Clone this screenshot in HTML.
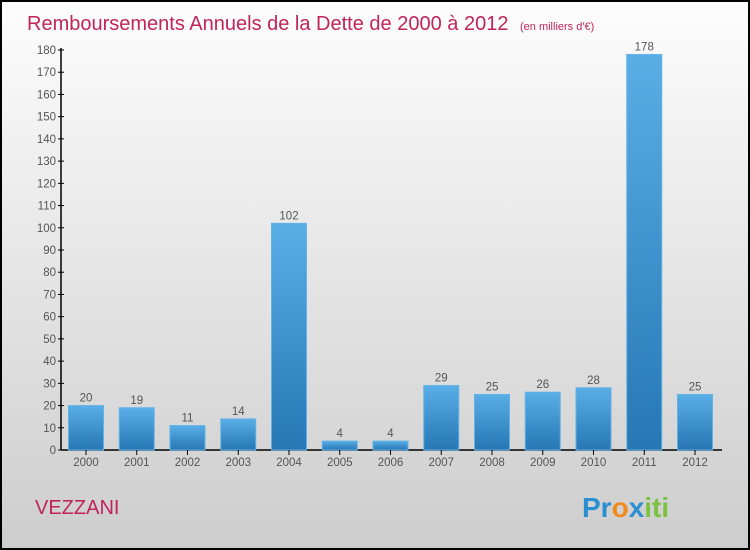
<!DOCTYPE html>
<html><head><meta charset="utf-8"><style>
body{margin:0;width:750px;height:550px;overflow:hidden}
svg{display:block;font-family:"Liberation Sans",sans-serif}
</style></head><body>
<svg id="c" width="750" height="550">
<defs>
<linearGradient id="bg" x1="0" y1="0" x2="0" y2="1"><stop offset="0" stop-color="#fdfdfd"/><stop offset="1" stop-color="#cdcdcd"/></linearGradient>
<linearGradient id="bar" x1="0" y1="0" x2="0" y2="1"><stop offset="0" stop-color="#5aaee6"/><stop offset="1" stop-color="#2677b4"/></linearGradient>
</defs>
<rect x="1" y="1" width="748" height="548" fill="url(#bg)" stroke="#000" stroke-width="2"/>
<text x="27" y="30" font-size="20" fill="#c0245a">Remboursements Annuels de la Dette de 2000 à 2012 <tspan font-size="11" dx="6">(en milliers d'€)</tspan></text>
<text x="35" y="514" font-size="20" fill="#c0245a">VEZZANI</text>
<text x="582" y="517" font-size="28" font-weight="bold"><tspan fill="#2a8fd0">Pr</tspan><tspan fill="#f08a1c">o</tspan><tspan fill="#2a8fd0">x</tspan><tspan fill="#7cc242">iti</tspan></text>
<g id="g"></g>
</svg>
<script>
const years=["2000","2001","2002","2003","2004","2005","2006","2007","2008","2009","2010","2011","2012"];
const values=[20,19,11,14,102,4,4,29,25,26,28,178,25];
const ticks=[0,10,20,30,40,50,60,70,80,90,100,110,120,130,140,150,160,170,180];
const NS="http://www.w3.org/2000/svg";
const g=document.getElementById('g');
const y0=450,y1=50,vmax=180;
const y=v=>y0-(v/vmax)*(y0-y1);
const x=i=>86+i*50.75;
function el(t,a,p){const e=document.createElementNS(NS,t);for(const k in a)e.setAttribute(k,a[k]);(p||g).appendChild(e);return e;}
let ax=el('line',{x1:61,y1:48,x2:61,y2:450,stroke:'#000','stroke-width':1.5});


let bx=el('line',{x1:61,y1:450,x2:722,y2:450,stroke:'#000','stroke-width':1.5});


ticks.forEach(t=>{
 const l=el('line',{x1:58,x2:64,y1:y(t),y2:y(t),stroke:'#000'});
 
 
 const tx=el('text',{x:56,y:y(t)+4,'font-size':11.5,fill:'#555','text-anchor':'end'});
 tx.textContent=t;
 
 
});
years.forEach((yr,i)=>{
 const v=values[i];
 const r=el('rect',{x:x(i)-17.5,y:y(v),width:35,height:y0-y(v),fill:'url(#bar)',stroke:'#62b2e8','stroke-width':1});
 
 
 const vl=el('text',{x:x(i),y:y(v)-4,'font-size':11.5,fill:'#555','text-anchor':'middle'});
 vl.textContent=v;
 
 
 const tk=el('line',{x1:x(i),x2:x(i),y1:450,y2:455,stroke:'#000'});
 
 
 const xl=el('text',{x:x(i),y:466,'font-size':11.5,fill:'#555','text-anchor':'middle'});
 xl.textContent=yr;
 
 
});
</script>
</body></html>
